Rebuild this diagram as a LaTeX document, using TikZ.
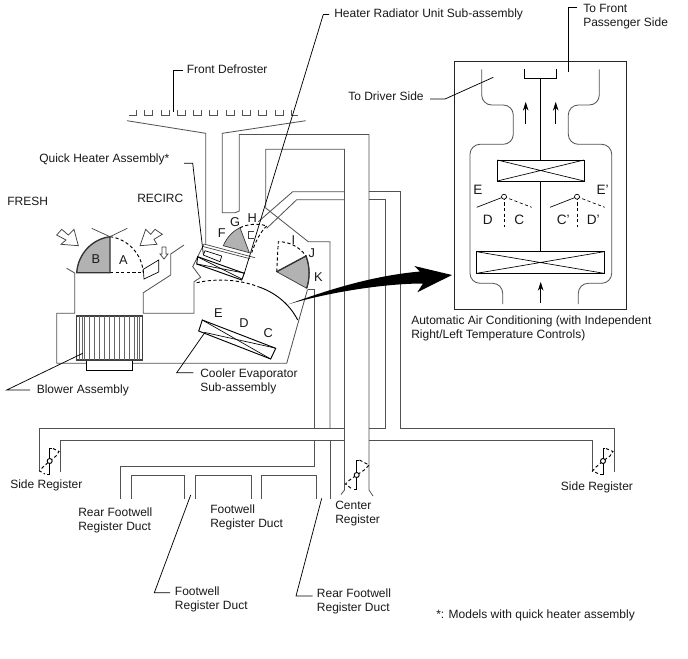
\documentclass[tikz,border=0pt]{standalone}
\usepackage{fontspec}
\setmainfont{Liberation Sans}
\usetikzlibrary{arrows.meta}
\tikzset{
  duct/.style={draw=black!68,line width=0.62pt},
  part/.style={draw=black,line width=0.5pt},
  lead/.style={draw=black,line width=0.55pt},
  dashln/.style={draw=black,line width=0.7pt,dash pattern=on 2.4pt off 1.8pt},
  flap/.style={draw=black!80,line width=1pt,fill=black!30},
  lab/.style={inner sep=0pt,anchor=west,font=\fontsize{9pt}{10.5pt}\selectfont,align=left,text=black!90},
  ltr/.style={inner sep=0pt,font=\fontsize{9.6pt}{11pt}\selectfont,text=black!90},
  ltrb/.style={inner sep=0pt,font=\fontsize{10.2pt}{11pt}\selectfont,text=black!90},
  hollow/.style={draw=black!75,line width=0.55pt,fill=white,line join=miter},
  blk/.style={-{Stealth[length=6.5pt,width=4.2pt]},draw=black,line width=0.5pt},
}
\begin{document}
\begin{tikzpicture}[x=0.75pt,y=-0.75pt]
\useasboundingbox[fill=white] (0,0) rectangle (688,658);

% ---- defroster fins
\draw[duct] (128.5,115.7) -- (136,115.7) -- (136,110);
\foreach \a in {144,161,177,193,209,226,242,258,275}
  \draw[duct] (\a,110) -- (\a,115.7) -- (\a+8,115.7) -- (\a+8,110);
\draw[duct] (291,110) -- (291,115.7) -- (298,115.7);

% ---- defroster funnel and centre ducts
\draw[duct] (127,120.7) -- (205.7,133.3) -- (205.7,243.5);
\draw[duct] (305.7,120.7) -- (222.3,133.3) -- (222.3,212.7) -- (235,212.7) -- (239.3,211) -- (239.3,134.5) -- (369,134.5) -- (369,490) -- (373,496);
\draw[duct] (344.5,490) -- (344.5,149.3) -- (265.7,149.3) -- (265.7,208) -- (308.3,241.7) -- (330,241.7) -- (330,428.3);
\draw[duct] (344.5,490) -- (341,494.5);

% ---- side ducts
\draw[duct] (258.3,221.7) -- (292.7,191.7) -- (344.5,191.7);
\draw[duct] (369,191.7) -- (400.7,191.7) -- (400.7,428.3) -- (614,428.3) -- (614,471.7);
\draw[duct] (266.7,228.3) -- (296.7,199.7) -- (344.5,199.7);
\draw[duct] (369,199.7) -- (385.7,199.7) -- (385.7,428.3) -- (369,428.3);
\draw[duct] (39,471) -- (39,428.3) -- (344.5,428.3);
\draw[duct] (60,471.7) -- (60,440) -- (344.5,440);
\draw[duct] (369,440) -- (592.7,440) -- (592.7,471.7);
\draw[duct] (308,289.3) -- (314.5,289.3) -- (314.5,428.3);
\draw[duct] (120.7,499) -- (120.7,466) -- (314.5,466) -- (314.5,440);
\draw[duct] (330,440) -- (330,499);
\draw[duct] (131.7,499) -- (131.7,475) -- (184.3,475) -- (184.3,499);
\draw[duct] (195.3,499) -- (195.3,475) -- (251.3,475) -- (251.3,499);
\draw[duct] (261.7,499) -- (261.7,475) -- (316,475) -- (316,499);

% ---- intake housing
\draw[duct] (66.7,268.3) -- (74.7,273) -- (74.7,313.3) -- (56.7,313.3) -- (56.7,363.3) -- (286.7,363.3) -- (305,298.3) -- (307.5,289.5);
\draw[duct] (184,245) -- (170.7,254) -- (170.7,275) -- (143.3,292.7) -- (143.3,313.3) -- (194,313.3) -- (194,281.7) -- (200.7,277.3) -- (192.7,266.7) -- (204,244);

% ---- blower
\draw[part,fill=white] (86,360) rectangle (132.7,370);
\draw[part,draw=black!75,line width=0.8pt,fill=white] (76.7,316) rectangle (142.3,360);
\foreach \a in {79.5,82,84.5,89.5,94.5,99.5,104.5,109.5,114.5,119.5,124.5,129.5,134.5,137,139.5}
  \draw[part,draw=black!60,line width=0.45pt] (\a,316) -- (\a,360);

% ---- fresh / recirc damper
\draw[dashln] (110,236.7) .. controls (128,239) and (142,254) .. (143.3,272.7);
\draw[dashln] (110,272.7) -- (143.3,272.7);
\draw[flap] (110,272.7) -- (76.7,272.7) .. controls (78,254) and (92,239) .. (110,236.7) -- cycle;
\draw[part,draw=black!75] (91.7,228.3) -- (110,236.7) -- (127.3,228.3);
\draw[part,fill=white] (143.3,269.3) -- (158.7,260) -- (158.7,272) -- (144,279) -- cycle;

% ---- hollow arrows
\draw[hollow] (56.7,235) -- (61.7,229.3) -- (68.3,235) -- (74,229.3) -- (78.3,245.7) -- (61,244.3) -- (66,240) -- cycle;
\draw[hollow] (162.3,234.3) -- (155,229.3) -- (150.7,234.3) -- (145.7,229.3) -- (140,245.7) -- (157,244.3) -- (154,239.3) -- cycle;
\draw[hollow] (162,247) -- (166,247) -- (166,254) -- (168,254) -- (164,259) -- (160,254) -- (162,254) -- cycle;

% ---- heater
\draw[part,draw=black!75] (204,244) -- (255,257.7);
\draw[part,draw=black!75] (203,246.5) -- (250,258.7);
\draw[part] (205,250.7) -- (221.7,256) -- (220,261.7) -- (203.3,255) -- cycle;
\draw[part,line width=0.7pt] (197.7,256.7) -- (244.3,273.3) -- (241.7,280) -- (196.7,264) -- cycle;
\draw[part] (198,257) -- (242,279);
\draw[part] (197,264) -- (244,273);
\draw[flap,line width=0.5pt] (223.3,245.7) .. controls (227,237) and (233,231) .. (240,227.7) -- (249.3,252.7) -- cycle;
\draw[dashln] (240,227.7) .. controls (248,224) and (258,223) .. (266.7,226);
\draw[dashln] (266.7,226) .. controls (260,232) and (255,243) .. (251.7,252.7);
\draw[part,draw=black!75] (248.3,231) -- (254,231) (248.3,231) -- (248.3,238.3) -- (253.5,238.3);

% ---- damper I J K
\draw[flap,line width=0.5pt] (276.7,271.7) -- (306,256) .. controls (310,267) and (310,278) .. (306.7,288.3) -- cycle;
\draw[draw=black!80,line width=1pt] (276.7,271.7) -- (306,256) .. controls (310,267) and (310,278) .. (306.7,288.3);
\draw[dashln] (276.7,271.7) -- (278.3,241.7) .. controls (288,241.5) and (299,246) .. (306,256);

% ---- air-mix arc
\draw[dashln] (196.7,282.7) .. controls (215,278.5) and (238,279) .. (258.3,286.7);
\draw[part,line width=0.7pt] (258.3,286.7) .. controls (274,292) and (289,303) .. (297.7,320);

% ---- evaporator
\draw[part,line width=0.7pt] (202.3,320) -- (275.7,348.3) -- (270.7,359) -- (198.7,331) -- cycle;
\draw[part] (202.3,320) -- (270.7,359);
\draw[part] (205,332.5) -- (275,348);

% ---- registers
\draw[part,line width=0.7pt] (52.3,448.3) -- (49.7,448.3) -- (49.7,474) -- (47,474);
\draw[dashln] (53,448.5) -- (59,451.5) -- (56,456) -- (49.7,461) -- (42.5,467.5) -- (39.5,471) -- (45,474);
\draw[part,fill=white,line width=0.7pt] (49.7,461) circle[radius=2.5];
\draw[part,line width=0.7pt] (359,460) -- (356.7,460) -- (356.7,489.3) -- (354,489.3);
\draw[dashln] (359.5,460) -- (369,465) -- (365,469.5) -- (356.7,475) -- (349,480.5) -- (345.5,484) -- (352,489);
\draw[part,fill=white,line width=0.7pt] (356.7,475) circle[radius=2.5];
\draw[part,line width=0.7pt] (605,448.3) -- (603,448.3) -- (603,474) -- (600,474);
\draw[dashln] (606,448.5) -- (613,451.5) -- (610,456) -- (603,461) -- (596,467) -- (592.5,471) -- (598,473.5);
\draw[part,fill=white,line width=0.7pt] (603,461) circle[radius=2.5];

% ---- big arrow
\fill[black] (288.3,304.3) .. controls (325,291) and (370,276) .. (420,271.5) -- (414.3,266) -- (452,275) -- (417.3,292.3) -- (423,283.5) .. controls (385,283.5) and (330,292) .. cycle;

% ---- right panel
\draw[part,draw=black!85,line width=0.7pt] (454.3,61.7) rectangle (626.7,309.3);
\draw[duct,rounded corners=7.5pt] (481.7,69.3) -- (481.7,105) -- (513.3,105) -- (513.3,144.3) -- (470,144.3) -- (470,283.3) -- (502.7,283.3) -- (502.7,304);
\draw[duct,rounded corners=7.5pt] (599.3,69.3) -- (599.3,105) -- (568.3,105) -- (568.3,144.3) -- (611.7,144.3) -- (611.7,283.3) -- (578.3,283.3) -- (578.3,304);
\draw[part] (524.3,69.3) -- (524.3,78.7) -- (556.7,78.7) -- (556.7,69.3);
\draw[part] (540.7,78.7) -- (540.7,251.7);
\draw[part,line width=0.65pt,fill=white] (497.3,160) rectangle (584,181);
\draw[part] (497.3,160) -- (584,181) (497.3,181) -- (584,160);
\draw[part,line width=0.65pt,fill=white] (476.7,251.7) rectangle (604,273.3);
\draw[part] (476.7,251.7) -- (604,273.3) (476.7,273.3) -- (604,251.7);
\draw[blk] (525.7,124) -- (525.7,102);
\draw[blk] (555.7,124) -- (555.7,102);
\draw[blk] (540.7,303) -- (540.7,282);
\draw[part] (476.7,207.3) -- (504,196.7);
\draw[dashln,line width=0.5pt] (504,196.7) -- (531.7,207.3);
\draw[dashln,line width=0.5pt] (504,196.7) -- (504,226.7);
\draw[part,fill=white] (504,196.7) circle[radius=2.5];
\draw[part] (550,207.3) -- (577,196.7);
\draw[dashln,line width=0.5pt] (577,196.7) -- (604.7,207.3);
\draw[dashln,line width=0.5pt] (577,196.7) -- (577,226.7);
\draw[part,fill=white] (577,196.7) circle[radius=2.5];

% ---- letters
\node[ltr] (lB) at (96,259) {B};
\node[ltr] (lA) at (123.3,260) {A};
\node[ltr] (lF) at (221.7,233.3) {F};
\node[ltr] (lG) at (235,221.7) {G};
\node[ltr] (lH) at (252.3,218.3) {H};
\node[ltr] (lI) at (293.3,240) {I};
\node[ltr] (lJ) at (311.7,253.3) {J};
\node[ltr] (lK) at (318.3,276.7) {K};
\node[ltr] (lE) at (218.3,313.3) {E};
\node[ltr] (lD) at (244,323.3) {D};
\node[ltr] (lC) at (268.3,333.3) {C};
\node[ltrb] (rE) at (478,190) {E};
\node[ltrb] (rEp) at (602.7,190) {E'};
\node[ltrb] (rD) at (487.7,220) {D};
\node[ltrb] (rC) at (519.3,220) {C};
\node[ltrb] (rCp) at (563.3,220) {C'};
\node[ltrb] (rDp) at (593.3,220) {D'};

% ---- labels
\node[lab] (heater) at (334,14.5) {Heater Radiator Unit Sub-assembly};
\node[lab,anchor=north west] (front) at (583,3.5) {To Front\\Passenger Side};
\node[lab] (driver) at (348,96) {To Driver Side};
\node[lab] (defrost) at (186.5,69.5) {Front Defroster};
\node[lab] (quick) at (39,159) {Quick Heater Assembly*};
\node[lab] (fresh) at (7,201.5) {FRESH};
\node[lab] (recirc) at (137,198.5) {RECIRC};
\node[lab] (blower) at (36.5,390) {Blower Assembly};
\node[lab,anchor=north west] (cooler) at (200,369) {Cooler Evaporator\\Sub-assembly};
\node[lab,anchor=north west] (auto) at (411,316) {Automatic Air Conditioning (with Independent\\Right/Left Temperature Controls)};
\node[lab] (sideL) at (10,485) {Side Register};
\node[lab] (sideR) at (560.7,487.5) {Side Register};
\node[lab,anchor=north west] (rear1) at (78,508) {Rear Footwell\\Register Duct};
\node[lab,anchor=north west] (foot1) at (210,505) {Footwell\\Register Duct};
\node[lab,anchor=north west] (center) at (335,501) {Center\\Register};
\node[lab,anchor=north west] (foot2) at (174.7,587) {Footwell\\Register Duct};
\node[lab,anchor=north west] (rear2) at (316.7,589) {Rear Footwell\\Register Duct};
\node[lab] (models) at (436,615) {*: Models with quick heater assembly};

% ---- leaders
\coordinate (tHeat) at (244.3,273.3);
\coordinate (tDef) at (173.3,111.7);
\coordinate (tQuick) at (203.3,254);
\coordinate (tBlow) at (82.7,353.3);
\coordinate (tCool) at (205,332.3);
\coordinate (tFront) at (568.3,71.7);
\coordinate (tDrv) at (493.3,77.3);
\coordinate (tF2) at (190.7,495);
\coordinate (tR2) at (321.7,498.3);
\draw[lead] (329,14.5) -- (323.3,14.5) -- (tHeat);
\draw[lead] (183.3,70) -- (173.3,70) -- (tDef);
\draw[lead] (184,163.3) -- (192.7,163.3) -- (tQuick);
\draw[lead] (30,390) -- (6.7,390) -- (tBlow);
\draw[lead] (193.3,372.7) -- (176.7,372.7) -- (tCool);
\draw[lead] (577.3,7.3) -- (568.3,7.3) -- (tFront);
\draw[lead] (430,99) -- (445,99) -- (tDrv);
\draw[lead] (170,592.7) -- (154.3,592.7) -- (tF2);
\draw[lead] (312.7,596) -- (296,596) -- (tR2);
\end{tikzpicture}
\end{document}
